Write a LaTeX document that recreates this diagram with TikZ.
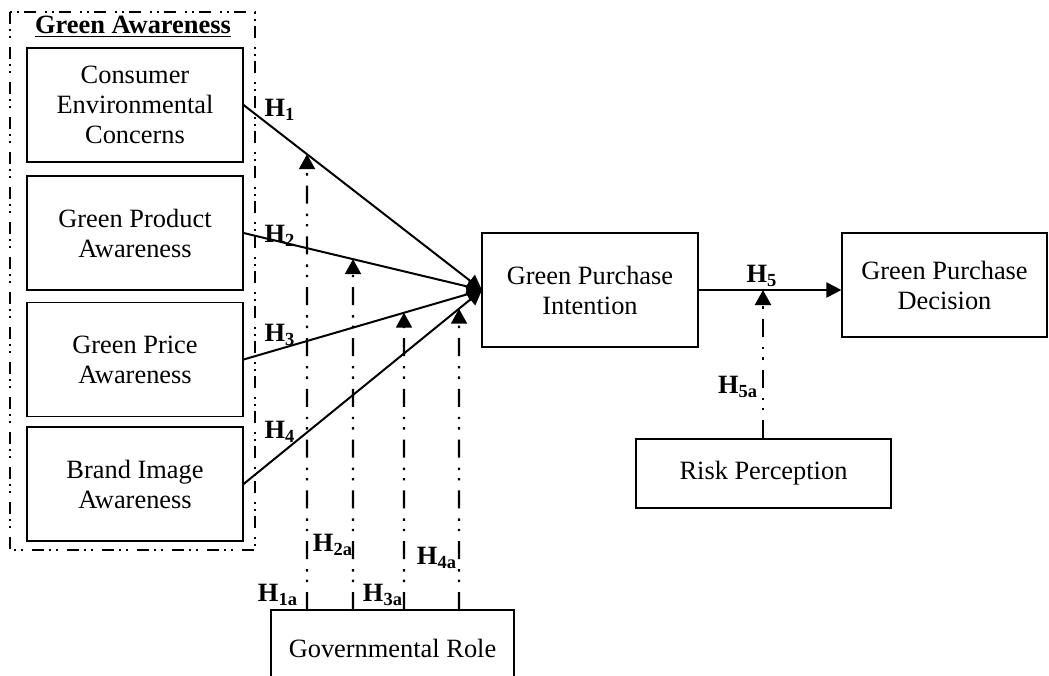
\documentclass[tikz,border=0pt]{standalone}
\usepackage{fontspec}
\setmainfont{Liberation Serif}
\usepackage{tikz}
\usetikzlibrary{arrows.meta}

\newcommand{\hyp}[1]{\textbf{H\textsubscript{#1}}}

\begin{document}
\begin{tikzpicture}[x=0.5pt,y=-0.5pt,
    every node/.style={font=\fontsize{13.2}{15}\selectfont},
    construct/.style={draw,line width=0.6pt,align=center,inner sep=2pt},
    leftbox/.style={construct,minimum width=108pt,minimum height=57pt},
    path/.style={line width=1pt,-{Triangle[length=7.5pt,width=7.5pt]}},
    modline/.style={line width=1.1pt,-{Triangle[length=7.5pt,width=8pt]},
      dash pattern=on 9pt off 5pt on 1.2pt off 4pt on 1.2pt off 5pt},
    groupline/.style={line width=0.6pt,
      dash pattern=on 6pt off 2.5pt on 1pt off 2.5pt on 1pt off 4.5pt}]
  \useasboundingbox (0,0) rectangle (1049,675);

  \draw[groupline] (10,12) rectangle (255,550);
  \draw (133,27) node (ga) {\textbf{\underline{Green Awareness}}};

  \draw (135,105) node[leftbox] (cec) {Consumer\\Environmental\\Concerns};
  \draw (135,233) node[leftbox] (gpa) {Green Product\\Awareness};
  \draw (135,359.5) node[leftbox] (gpra) {Green Price\\Awareness};
  \draw (135,484) node[leftbox] (bia) {Brand Image\\Awareness};

  \draw (590,290) node[construct,minimum width=108pt,minimum height=57pt] (gpi) {Green Purchase\\Intention};
  \draw (944.5,285) node[construct,minimum width=102.5pt,minimum height=52pt] (gpd) {Green Purchase\\Decision};
  \draw (763.5,473.5) node[construct,minimum width=127.5pt,minimum height=34.5pt] (rp) {Risk Perception};
  \draw (392.5,648) node[construct,minimum width=121.5pt,minimum height=38pt] (gr) {Governmental Role};

  \coordinate (gi) at (482,290);
  \coordinate (h5m) at (763,290);
  \coordinate (m1) at (307,610);
  \coordinate (m2) at (353,610);
  \coordinate (m3) at (404,610);
  \coordinate (m4) at (459,610);
  \coordinate (m1t) at (307,0);
  \coordinate (m2t) at (353,0);
  \coordinate (m3t) at (404,0);
  \coordinate (m4t) at (459,0);

    \path[path] (cec.east) edge (gi);
    \path[path] (gpa.east) edge (gi);
    \path[path] (gpra.east) edge (gi);
    \path[path] (bia.east) edge (gi);
    \path[path] (gpi.east |- gi) edge (gpd.west |- gi);

    \draw[modline] (m1) -- (intersection of cec.east--gi and m1--m1t);
    \draw[modline] (m2) -- (intersection of gpa.east--gi and m2--m2t);
    \draw[modline] (m3) -- (intersection of gpra.east--gi and m3--m3t);
    \draw[modline] (m4) -- (intersection of bia.east--gi and m4--m4t);
    \draw[modline] (rp.north -| h5m) -- (h5m);

  \draw (280,110) node (lh1) {\hyp{1}};
  \draw (280,236) node (lh2) {\hyp{2}};
  \draw (280,335) node (lh3) {\hyp{3}};
  \draw (280,432) node (lh4) {\hyp{4}};
  \draw (762,276) node (lh5) {\hyp{5}};
  \draw (278,595) node (lh1a) {\hyp{1a}};
  \draw (333,545) node (lh2a) {\hyp{2a}};
  \draw (383,595) node (lh3a) {\hyp{3a}};
  \draw (437,558) node (lh4a) {\hyp{4a}};
  \draw (738,387) node (lh5a) {\hyp{5a}};

\end{tikzpicture}
\end{document}
